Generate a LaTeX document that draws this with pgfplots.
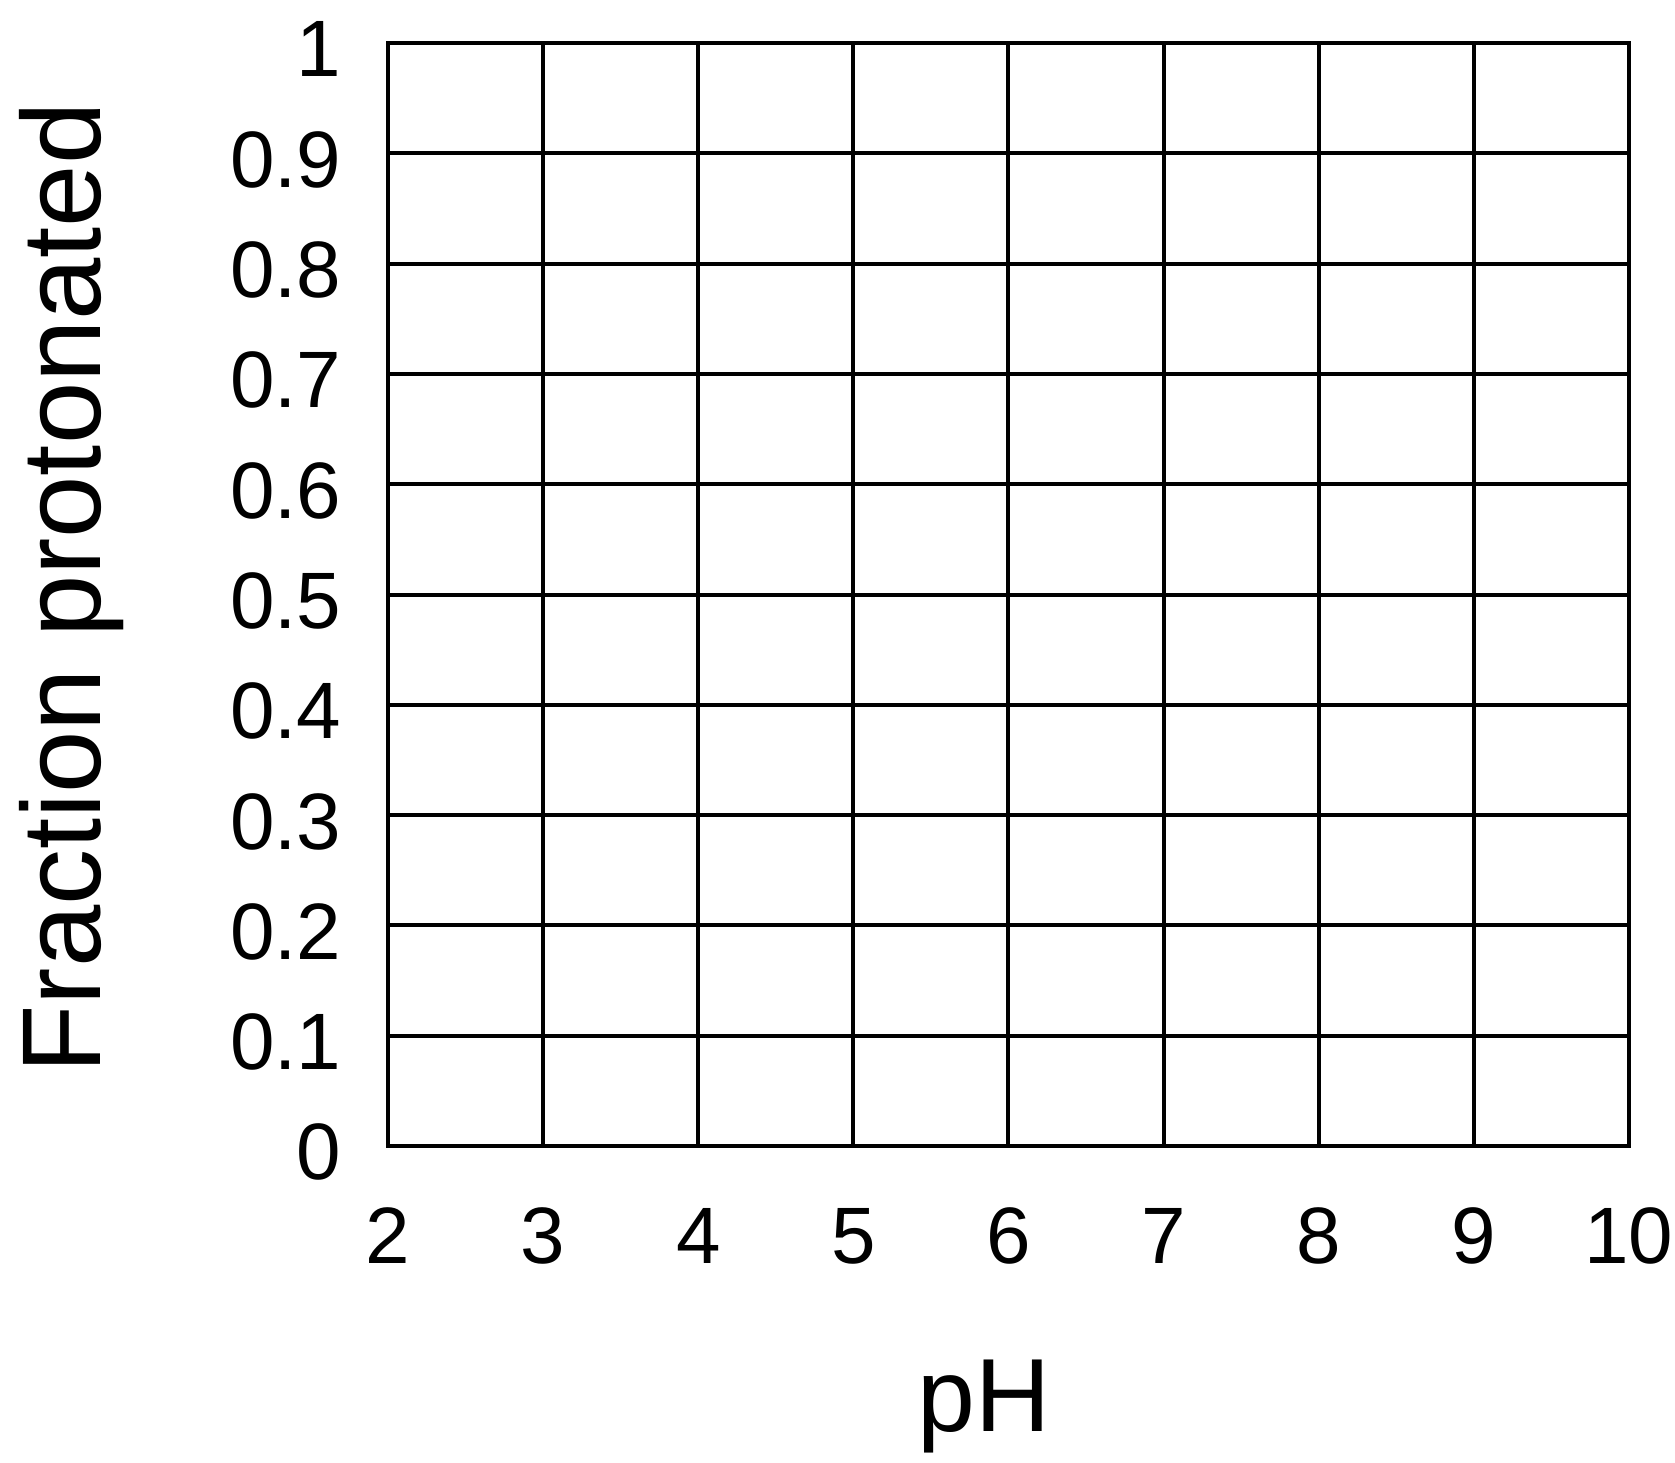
\documentclass[border=0pt]{standalone}
\usepackage{fontspec}
\setmainfont{Liberation Sans}
\usepackage{pgfplots}
\pgfplotsset{compat=1.18}
\begin{document}
\begin{tikzpicture}
\begin{axis}[
  scale only axis,
  width=310.25pt, height=275.75pt,
  xmin=2, xmax=10, ymin=0, ymax=1,
  xtick={2,3,4,5,6,7,8,9,10},
  ytick={0,0.1,0.2,0.3,0.4,0.5,0.6,0.7,0.8,0.9,1},
  yticklabels={0,0.1,0.2,0.3,0.4,0.5,0.6,0.7,0.8,0.9,1},
  xticklabels={2,3,4,5,6,7,8,9,10},
  grid=major,
  major grid style={black, line width=1pt},
  axis line style={black, line width=1pt},
  major tick length=0pt,
  tick label style={font=\fontsize{20}{24}\selectfont, text=black, inner sep=0pt},
  x tick label style={anchor=center, yshift=-22.5pt},
  y tick label style={anchor=east, xshift=-11.5pt, yshift=-1.6pt},
  xlabel={pH},
  ylabel={Fraction protonated},
  xlabel style={font=\fontsize{26}{30}\selectfont, inner sep=0pt, at={(rel axis cs:0.48,-0.236)}, anchor=center},
  ylabel style={font=\fontsize{28}{32}\selectfont, inner sep=0pt, at={(rel axis cs:-0.255,0.506)}, anchor=center, rotate=0},
  clip=false,
]
\addplot[draw=none, forget plot] coordinates {(2,0) (10,1)};
\path (rel axis cs:-0.3127,-0.2874) rectangle (rel axis cs:1.0371,1.039);
\end{axis}
\end{tikzpicture}
\end{document}
